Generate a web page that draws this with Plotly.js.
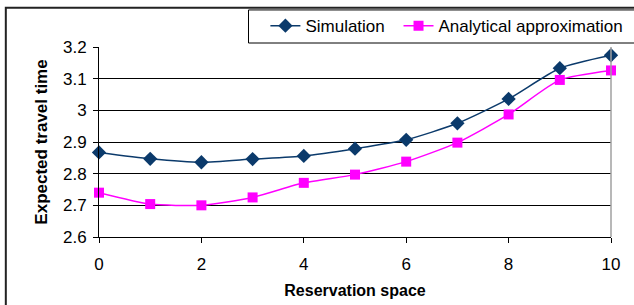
<!DOCTYPE html>
<html>
<head>
<meta charset="utf-8">
<script src="https://cdn.plot.ly/plotly-3.0.1.min.js"></script>
<style>html,body{margin:0;padding:0;background:#fff;}#chart{width:634px;height:305px;}</style>
</head>
<body>
<div id="chart"></div>
<script>
const reservationSpace = [0, 1, 2, 3, 4, 5, 6, 7, 8, 9, 10];
const simulation = [2.867, 2.847, 2.836, 2.846, 2.856, 2.879, 2.907, 2.959, 3.036, 3.133, 3.174];
const analytical = [2.740, 2.704, 2.700, 2.725, 2.771, 2.797, 2.838, 2.898, 2.987, 3.096, 3.126];
const xTicks = [0, 2, 4, 6, 8, 10];
const yTicks = [2.6, 2.7, 2.8, 2.9, 3.0, 3.1, 3.2];

const font = "Liberation Sans, Arial, sans-serif";

const traces = [
  {
    x: reservationSpace, y: simulation, name: "Simulation", legend: "legend",
    type: "scatter", mode: "lines+markers", cliponaxis: false,
    line: {color: "#0b3a6b", width: 1.5, shape: "spline", smoothing: 0.6},
    marker: {symbol: "diamond", size: 11, color: "#0b3a6b"}
  },
  {
    x: reservationSpace, y: analytical, name: "Analytical approximation", legend: "legend2",
    type: "scatter", mode: "lines+markers", cliponaxis: false,
    line: {color: "#ff00ff", width: 1.5, shape: "spline", smoothing: 0.6},
    marker: {symbol: "square", size: 10, color: "#ff00ff"}
  }
];

const legendBase = {
  orientation: "h", xanchor: "left", y: 1.11, yanchor: "middle",
  font: {family: font, size: 17, color: "#000"},
  bgcolor: "rgba(0,0,0,0)", borderwidth: 0
};

const layout = {
  width: 634, height: 305,
  margin: {l: 99, r: 23, t: 47, b: 68, autoexpand: false},
  paper_bgcolor: "#fff", plot_bgcolor: "#fff",
  font: {family: font, size: 17, color: "#000"},
  showlegend: true,
  legend: Object.assign({}, legendBase, {x: 0.325}),
  legend2: Object.assign({}, legendBase, {x: 0.585}),
  xaxis: {
    range: [0, 10], tickvals: xTicks, ticks: "outside", ticklen: 5,
    tickcolor: "#000", showline: true, linecolor: "#000", linewidth: 1,
    showgrid: false, zeroline: false, tickfont: {family: font, size: 17},
    ticklabelstandoff: 7, automargin: false,
    title: {text: "<b>Reservation space</b>", font: {family: font, size: 16}, standoff: 11}
  },
  yaxis: {
    range: [2.6, 3.2], tickvals: yTicks, ticks: "outside", ticklen: 5,
    tickcolor: "#000", showline: true, linecolor: "#000", linewidth: 1,
    showgrid: true, gridcolor: "#000", gridwidth: 1, zeroline: false,
    tickfont: {family: font, size: 17}, ticklabelstandoff: 3, automargin: false,
    title: {text: "<b>Expected travel time</b>", font: {family: font, size: 17}, standoff: 11}
  },
  shapes: [
    {type: "line", xref: "paper", yref: "paper", x0: 1, x1: 1, y0: 0, y1: 1,
     line: {color: "#a0a0a0", width: 1.5}},
    {type: "rect", xref: "paper", yref: "paper", x0: -0.182, x1: 1.06, y0: -0.4, y1: 1.207,
     line: {color: "#222", width: 2}},
    {type: "rect", xref: "paper", yref: "paper", x0: 0.292, x1: 1.06, y0: 1.021, y1: 1.195,
     line: {color: "#000", width: 1}}
  ]
};

Plotly.newPlot("chart", traces, layout, {displayModeBar: false, staticPlot: true});
</script>
</body>
</html>
